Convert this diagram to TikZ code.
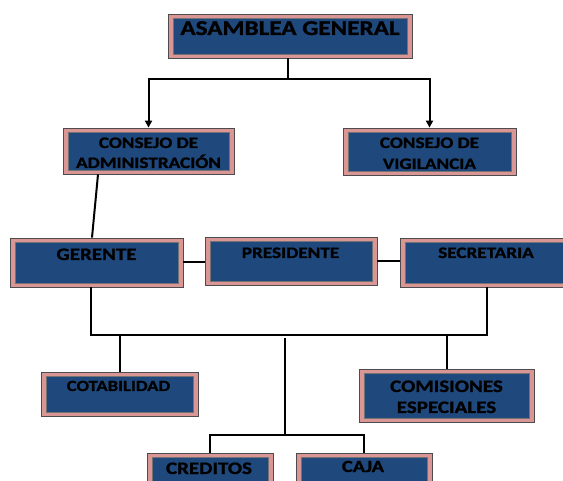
\documentclass[tikz,border=0pt]{standalone}
\usepackage{fontspec}
\setmainfont{Carlito}[FakeStretch=1.2, BoldFeatures={FakeBold=1.2}]
\usetikzlibrary{arrows.meta}
\definecolor{pinkc}{HTML}{D99694}
\definecolor{bluec}{HTML}{1F497D}
\tikzset{
  orgbox/.style={draw=black!70, line width=0.8pt, fill=pinkc, inner sep=0pt,
    minimum width=#1,
    path picture={\fill[draw=black!55, line width=0.4pt, fill=bluec]
      ([shift={(5pt,-4pt)}]path picture bounding box.north west) rectangle
      ([shift={(-5pt,4pt)}]path picture bounding box.south east);}},
  lbl/.style={anchor=base, inner sep=0pt, text=black, align=center, font=\bfseries},
  conn/.style={draw=black, line width=2pt},
  arr/.style={conn, -{Triangle[length=7pt,width=7pt]}},
}
\begin{document}
\begin{tikzpicture}[x=1pt,y=-1pt]
\useasboundingbox (0,0) rectangle (563,481);
\clip (0,0) rectangle (563,481);
% boxes
\node[orgbox=244pt, minimum height=44pt] (ag) at (290,36) {};
\node[orgbox=171pt, minimum height=46pt] (cadm) at (148.5,151) {};
\node[orgbox=173pt, minimum height=47pt] (cvig) at (429.5,151.5) {};
\node[orgbox=173pt, minimum height=49pt] (ger) at (96.5,262.5) {};
\node[orgbox=172pt, minimum height=48pt] (pres) at (291,261) {};
\node[orgbox=173pt, minimum height=49pt] (sec) at (486.5,262.5) {};
\node[orgbox=157pt, minimum height=44pt] (cot) at (119.5,394) {};
\node[orgbox=175pt, minimum height=53pt] (com) at (446.5,395.5) {};
\node[orgbox=126pt, minimum height=44pt] (cre) at (210,475) {};
\node[orgbox=136pt, minimum height=44pt] (caja) at (364,475) {};
% labels (base anchor = baseline of the last line)
\node[lbl, font=\bfseries\fontsize{21}{25}\selectfont] (tag) at (290,35) {ASAMBLEA GENERAL};
\node[lbl, font=\bfseries\fontsize{16}{20}\selectfont] (tcadm) at (148.5,168) {CONSEJO DE\\ADMINISTRACIÓN};
\node[lbl, font=\bfseries\fontsize{16}{21}\selectfont] (tcvig) at (429.5,169) {CONSEJO DE\\VIGILANCIA};
\node[lbl, font=\bfseries\fontsize{17.5}{21}\selectfont] (tger) at (96.5,260) {GERENTE};
\node[lbl, font=\bfseries\fontsize{16}{20}\selectfont] (tpres) at (290.5,258) {PRESIDENTE};
\node[lbl, font=\bfseries\fontsize{16}{20}\selectfont] (tsec) at (486,258) {SECRETARIA};
\node[lbl, font=\bfseries\fontsize{15.5}{20}\selectfont] (tcot) at (118.5,391) {COTABILIDAD};
\node[lbl, font=\bfseries\fontsize{17.5}{21}\selectfont] (tcom) at (446.5,413) {COMISIONES\\ESPECIALES};
\node[lbl, font=\bfseries\fontsize{17.5}{21}\selectfont] (tcre) at (209,474) {CREDITOS};
\node[lbl, font=\bfseries\fontsize{17}{21}\selectfont] (tcaja) at (363,472) {CAJA};
% junctions
\coordinate (j1) at (288,79);
\coordinate (j2) at (285,335);
\coordinate (j3) at (285,435);
% connectors
\draw[conn] ([xshift=-2pt]ag.south) -- (j1);
\draw[arr] (j1) -| (cadm.north);
\draw[arr] (j1) -| (cvig.north);
\draw[conn] ([xshift=-50.5pt]cadm.south) -- ([xshift=-4.5pt]ger.north);
\draw[conn] (ger.east) -- (ger.east -| pres.west);
\draw[conn] (pres.east) -- (pres.east -| sec.west);
\draw[conn] ([xshift=-5.5pt]ger.south) |- (j2) -| (sec.south);
\draw[conn] (cot.north) -- (cot.north |- j2);
\draw[conn] (com.north) -- (com.north |- j2);
\draw[conn] ([yshift=-3pt]j2) -- (j3);
\draw[conn] (j3) -| (cre.north);
\draw[conn] (j3) -| (caja.north);
\end{tikzpicture}
\end{document}
